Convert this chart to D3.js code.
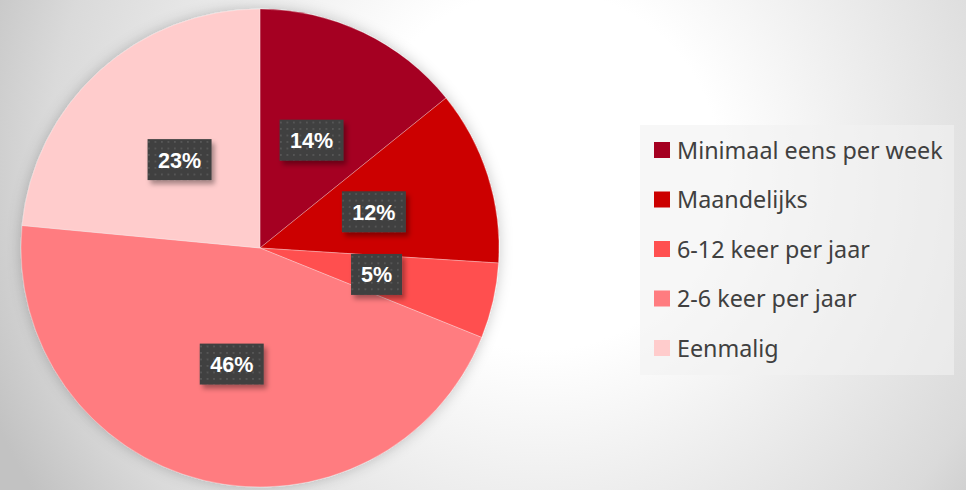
<!DOCTYPE html>
<html><head><meta charset="utf-8">
<script src="https://cdn.jsdelivr.net/npm/d3@7"></script>
<style>html,body{margin:0;padding:0;overflow:hidden;}svg{display:block;}</style>
</head><body>
<script>
const categories = ["Minimaal eens per week","Maandelijks","6-12 keer per jaar","2-6 keer per jaar","Eenmalig"];
const values = [14.2, 11.8, 5.1, 45.4, 23.5];
const labels = ["14%","12%","5%","46%","23%"];
const colors = ["#A50021","#CC0000","#FF5050","#FF7C80","#FFCCCC"];

const W = 966, H = 490;
const svg = d3.select("body").append("svg").attr("width", W).attr("height", H);
const defs = svg.append("defs");

const bg = defs.append("radialGradient").attr("id","bg").attr("gradientUnits","userSpaceOnUse")
  .attr("cx",540).attr("cy",170).attr("r",600);
bg.append("stop").attr("offset","0").attr("stop-color","#ffffff");
bg.append("stop").attr("offset","0.3").attr("stop-color","#ffffff");
bg.append("stop").attr("offset","0.82").attr("stop-color","#dadada");
bg.append("stop").attr("offset","1").attr("stop-color","#c2c2c2");
svg.append("rect").attr("width",W).attr("height",H).attr("fill","url(#bg)");

const glow = defs.append("filter").attr("id","glow").attr("x","-20%").attr("y","-20%").attr("width","140%").attr("height","140%");
glow.append("feGaussianBlur").attr("in","SourceAlpha").attr("stdDeviation",7).attr("result","b");
glow.append("feFlood").attr("flood-color","#000").attr("flood-opacity",0.22);
glow.append("feComposite").attr("in2","b").attr("operator","in").attr("result","s");
const gm = glow.append("feMerge");
gm.append("feMergeNode").attr("in","s");
gm.append("feMergeNode").attr("in","SourceGraphic");

const sh = defs.append("filter").attr("id","lshadow").attr("x","-30%").attr("y","-30%").attr("width","170%").attr("height","180%");
sh.append("feGaussianBlur").attr("in","SourceAlpha").attr("stdDeviation",2.5).attr("result","b");
sh.append("feOffset").attr("in","b").attr("dx",3).attr("dy",4).attr("result","o");
sh.append("feFlood").attr("flood-color","#000").attr("flood-opacity",0.35);
sh.append("feComposite").attr("in2","o").attr("operator","in").attr("result","s");
const sm = sh.append("feMerge");
sm.append("feMergeNode").attr("in","s");
sm.append("feMergeNode").attr("in","SourceGraphic");

const pat = defs.append("pattern").attr("id","dots").attr("patternUnits","userSpaceOnUse").attr("width",6.5).attr("height",6.5);
pat.append("rect").attr("width",6.5).attr("height",6.5).attr("fill","#404040");
pat.append("rect").attr("x",1).attr("y",1).attr("width",1.6).attr("height",1.6).attr("fill","#5c5c5c");

const cx = 260, cy = 248, R = 239;
const pie = d3.pie().sort(null).value(d => d);
const arcs = pie(values);
const arc = d3.arc().innerRadius(0).outerRadius(R);

const g = svg.append("g").attr("transform", `translate(${cx},${cy})`);
g.append("g").attr("filter","url(#glow)").selectAll("path").data(arcs).join("path")
  .attr("d", arc).attr("fill", (d,i) => colors[i])
  .attr("stroke","#ffffff").attr("stroke-opacity",0.35).attr("stroke-width",0.8);

const lg = g.selectAll("g.lbl").data(arcs).join("g").attr("class","lbl")
  .attr("transform", d => { const c = arc.centroid(d); return `translate(${c[0]},${c[1]})`; });
lg.each(function(d,i){
  const w = labels[i].length === 2 ? 51 : 64, h = 41;
  const s = d3.select(this);
  s.append("rect").attr("x",-w/2).attr("y",-h/2).attr("width",w).attr("height",h)
    .attr("fill","url(#dots)").attr("filter","url(#lshadow)");
  s.append("text").attr("text-anchor","middle").attr("y",8)
    .attr("font-family","'Liberation Sans', Arial, sans-serif").attr("font-weight","bold")
    .attr("font-size",21.5).attr("fill","#ffffff").text(labels[i]);
});

// legend
const leg = svg.append("g");
leg.append("rect").attr("x",640).attr("y",125).attr("width",314).attr("height",250)
  .attr("fill","#f2f2f2").attr("fill-opacity",0.6);
const rowY = d3.scalePoint().domain(categories).range([150, 348]);
const items = leg.selectAll("g.it").data(categories).join("g").attr("class","it")
  .attr("transform", d => `translate(654,${rowY(d)})`);
items.append("rect").attr("x",0).attr("y",-8).attr("width",16).attr("height",16)
  .attr("fill",(d,i)=>colors[i]);
items.append("text").attr("x",23).attr("y",8.5)
  .attr("font-family","'Noto Sans', 'Open Sans', sans-serif").attr("font-size",23.3)
  .attr("fill","#404040").text(d => d);
</script>
</body></html>
